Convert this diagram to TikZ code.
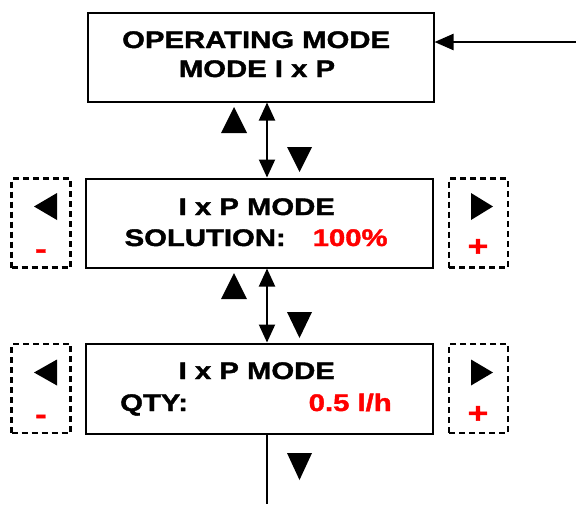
\documentclass[tikz,border=0pt]{standalone}
\usepackage{fontspec}
\setmainfont{Liberation Sans}[FakeStretch=1.22,BoldFeatures={FakeBold=1.6}]
\usetikzlibrary{arrows.meta}
\definecolor{valred}{RGB}{255,0,0}
\begin{document}
\begin{tikzpicture}[x=1pt,y=-1pt,
  box/.style={draw,line width=2pt,inner sep=0pt},
  keybox/.style={draw,line width=2.3pt,dash pattern=on 6pt off 4pt,inner sep=0pt,minimum width=59pt,minimum height=89pt},
  txt/.style={anchor=base west,inner sep=0pt,font=\fontsize{24}{28}\selectfont\bfseries},
  sign/.style={anchor=base,inner sep=0pt,text=valred,font=\fontsize{29}{33}\selectfont\bfseries},
  link/.style={line width=2pt,{Triangle[length=18pt,width=16pt]}-{Triangle[length=18pt,width=16pt]}},
  feed/.style={line width=2.2pt,-{Triangle[length=19pt,width=16pt]}},
  navmark/.style={fill=black}
]
\useasboundingbox (0,0) rectangle (576,504);

% boxes
\node[box,minimum width=346pt,minimum height=89pt] (b1) at (260.5,57) {};
\node[box,minimum width=347pt,minimum height=89pt] (b2) at (259,223) {};
\node[box,minimum width=347pt,minimum height=90pt] (b3) at (259,388.5) {};

% key boxes
\node[keybox] (l2) at (41,223) {};
\node[keybox] (r2) at (478.5,223) {};
\node[keybox] (l3) at (41,388.5) {};
\node[keybox] (r3) at (478.5,388.5) {};

% texts
\node[txt] (t1a) at (122,48) {OPERATING MODE};
\node[txt,anchor=base] (t1b) at (257,77) {MODE I x P};
\node[txt] (t2a) at (178.5,215) {I x P MODE};
\node[txt] (t2b) at (124.5,246) {SOLUTION:};
\node[txt,text=valred] (t2c) at (312.5,246) {100\%};
\node[txt] (t3a) at (178.5,379) {I x P MODE};
\node[txt] (t3b) at (120,411) {QTY:};
\node[txt,text=valred] (t3c) at (308.5,411) {0.5 l/h};

% signs
\node[sign] (m2) at (41,258.5) {-};
\node[sign] (p2) at (478,256) {+};
\node[sign] (m3) at (41,424) {-};
\node[sign] (p3) at (478,423) {+};

% connectors
\coordinate (vx) at (267,0);
\coordinate (feedin) at (576,42);
\coordinate (bottom) at (267,504);
\draw[link] (vx |- b1.south) -- (vx |- b2.north);
\draw[link] (vx |- b2.south) -- (vx |- b3.north);
\draw[line width=2pt] (vx |- b3.south) -- (bottom);
\draw[feed] (feedin) -- (feedin -| b1.east);

% navigation marks
\fill[navmark] (221,133) -- (247,133) -- (234,107) -- cycle;
\fill[navmark] (287,147) -- (312,147) -- (299.5,172) -- cycle;
\fill[navmark] (221,299) -- (247,299) -- (234,273) -- cycle;
\fill[navmark] (287,312) -- (312,312) -- (299.5,338) -- cycle;
\fill[navmark] (287,453) -- (312,453) -- (299.5,480) -- cycle;
\fill[navmark] (34,206.5) -- (57,193) -- (57,220) -- cycle;
\fill[navmark] (34,372.5) -- (57,359.5) -- (57,385.5) -- cycle;
\fill[navmark] (493,206.5) -- (471,193) -- (471,220) -- cycle;
\fill[navmark] (493,372.5) -- (471,359.5) -- (471,385.5) -- cycle;
\end{tikzpicture}
\end{document}
